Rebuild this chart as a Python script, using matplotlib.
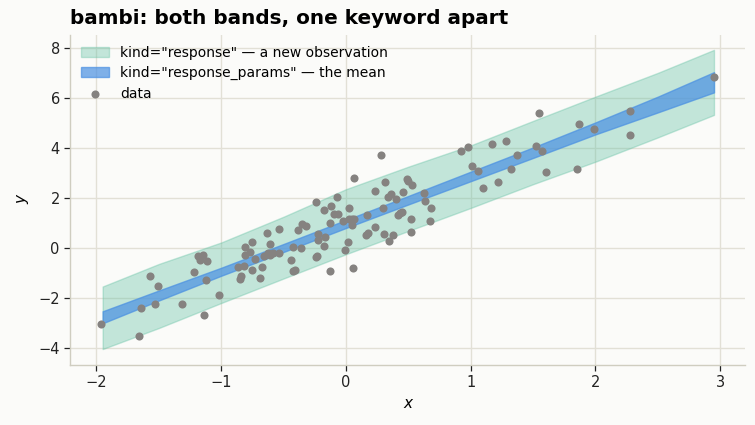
import matplotlib
matplotlib.use("Agg")
import matplotlib.pyplot as plt
import numpy as np

# ---- data ----
x_grid = [-1.95, -1.5, -1.0, -0.5, 0.0, 0.5, 1.0, 1.5, 2.0, 2.5, 2.95]
resp_lo = [-4.04, -3.20, -2.20, -1.22, -0.25, 0.68, 1.60, 2.55, 3.45, 4.42, 5.32]
resp_hi = [-1.54, -0.64, 0.22, 1.25, 2.35, 3.25, 4.10, 5.08, 6.05, 7.00, 7.92]
mean_lo = [-3.01, -2.10, -1.11, -0.16, 0.80, 1.74, 2.67, 3.60, 4.54, 5.42, 6.22]
mean_hi = [-2.53, -1.70, -0.79, 0.16, 1.12, 2.08, 3.05, 4.02, 5.02, 6.05, 7.03]

x_obs = [-1.967, -1.660, -1.639, -1.567, -1.510, -1.534, -1.318, -1.214, -1.187, -1.147,
         -1.166, -1.110, -1.118, -1.139, -1.019, -0.869, -0.843, -0.853, -0.816, -0.811,
         -0.808, -0.773, -0.749, -0.731, -0.755, -0.685, -0.669, -0.629, -0.605, -0.653,
         -0.627, -0.611, -0.587, -0.535, -0.538, -0.426, -0.407, -0.124, 0.054,
         0.279, 0.066, 0.311, 0.231, 0.490, 0.501, 0.527, 0.455, 0.335, 0.362,
         0.399, 0.623, 0.631, 0.679, 0.671, 0.525, 0.519, 0.421, 0.437, 0.453,
         0.295, 0.167, 0.236, 0.178, 0.164, 0.303, 0.375, 0.349, 0.022, -0.074,
         -0.122, -0.175, -0.242, -0.095, -0.063, -0.130, -0.022, 0.022, 0.050, 0.068,
         0.052, 0.014, -0.010, -0.226, -0.223, -0.164, -0.178, -0.242, -0.228, -0.322,
         -0.349, -0.386, -0.362, -0.426, -0.437,
         2.953, 2.280, 2.280, 1.990, 1.865, 1.850, 1.607, 1.545, 1.520, 1.569,
         1.369, 1.326, 1.280, 1.168, 1.216, 1.096, 1.056, 1.008, 0.976, 0.920]
y_obs = [-3.05, -3.52, -2.41, -1.12, -1.53, -2.25, -2.24, -0.97, -0.32, -0.28,
         -0.48, -0.53, -1.29, -2.69, -1.89, -0.77, -1.12, -1.25, -0.72, 0.04,
         -0.27, -0.16, 0.23, -0.43, -0.89, -1.21, -0.77, 0.59, 0.15, -0.31,
         -0.19, -0.29, -0.19, -0.19, 0.75, -0.92, -0.89, -0.92, -0.81,
         3.72, 2.79, 2.64, 2.28, 2.75, 2.67, 2.51, 2.24, 2.04, 2.15,
         1.95, 2.19, 1.88, 1.59, 1.07, 1.16, 0.63, 1.32, 1.39, 1.44,
         1.59, 1.31, 0.83, 0.61, 0.52, 0.55, 0.51, 0.27, 1.59, 2.03,
         1.68, 1.53, 1.84, 1.35, 1.35, 0.99, 1.09, 1.15, 1.16, 1.15,
         0.92, 0.23, -0.08, 0.55, 0.32, 0.44, 0.08, -0.37, -0.32, 0.88,
         0.96, 0.72, 0.00, 0.04, -0.48,
         6.83, 5.47, 4.51, 4.75, 4.95, 3.16, 3.03, 5.40, 4.08, 3.87,
         3.71, 3.16, 4.28, 4.15, 2.63, 2.40, 3.07, 3.28, 4.04, 3.88]

title = "bambi: both bands, one keyword apart"
lab_resp = 'kind="response" \u2014 a new observation'
lab_mean = 'kind="response_params" \u2014 the mean'
lab_data = "data"

# ---- style ----
bg = "#fbfbf9"
fig = plt.figure(figsize=(7.55, 4.25), dpi=100, facecolor=bg)
ax = fig.add_axes([0.093, 0.141, 0.894, 0.777], facecolor=bg)

ax.fill_between(x_grid, resp_lo, resp_hi, facecolor="#66c2a5", alpha=0.38,
                edgecolor="#66c2a5", linewidth=1.0, label=lab_resp, zorder=2)
ax.fill_between(x_grid, mean_lo, mean_hi, facecolor="#4a90e2", alpha=0.7,
                edgecolor="#4a90e2", linewidth=1.0, label=lab_mean, zorder=3)
ax.scatter(x_obs, y_obs, s=34, color="#858280", linewidths=0, label=lab_data, zorder=4)

ax.set_xlim(-2.21, 3.20)
ax.set_ylim(-4.68, 8.52)
ax.set_xticks([-2, -1, 0, 1, 2, 3])
ax.set_yticks([-4, -2, 0, 2, 4, 6, 8])
ax.set_xticklabels(["\u22122", "\u22121", "0", "1", "2", "3"])
ax.set_yticklabels(["\u22124", "\u22122", "0", "2", "4", "6", "8"])

ax.grid(True, color="#e2e0d6", linewidth=1.0, zorder=0)
ax.set_axisbelow(True)
for s in ["top", "right"]:
    ax.spines[s].set_visible(False)
for s in ["left", "bottom"]:
    ax.spines[s].set_color("#cfcdc0")
    ax.spines[s].set_linewidth(1.0)
ax.tick_params(axis="both", labelsize=10.5, colors="#222222", length=4, width=0.9)

ax.set_xlabel("x", fontsize=11, style="italic", labelpad=4)
ax.set_ylabel("y", fontsize=11, style="italic", labelpad=6)
ax.set_title(title, loc="left", fontsize=14.4, fontweight="bold", pad=8)

ax.legend(loc="upper left", frameon=False, fontsize=10, handlelength=2.0,
          borderaxespad=0.4, labelspacing=0.45)

fig.savefig("out.png", dpi=100, facecolor=bg)
